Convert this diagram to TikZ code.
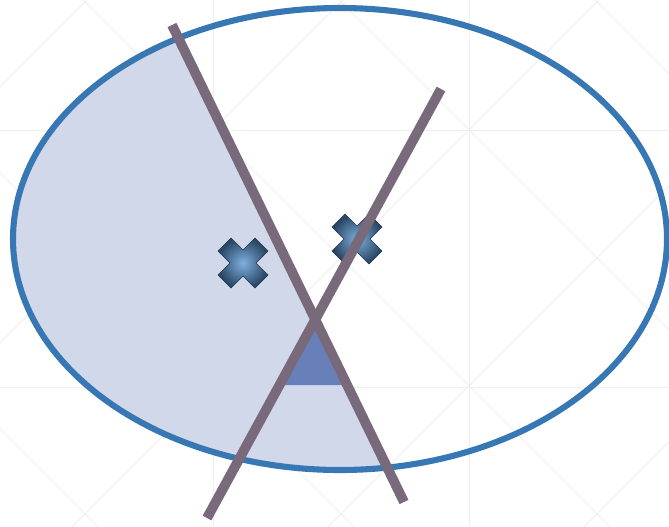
\documentclass[tikz,border=0pt]{standalone}
\usepackage{tikz}
\usetikzlibrary{calc}
\usepackage{xcolor}
\definecolor{rimblue}{HTML}{3777B4}
\definecolor{cutgray}{HTML}{796A7B}
\definecolor{paleblue}{HTML}{D1D8EA}
\definecolor{wedgeblue}{HTML}{6880BA}
\definecolor{gridgray}{HTML}{EEEEF1}
\definecolor{crosslight}{HTML}{7DB0E0}
\definecolor{crossdark}{HTML}{1D3550}
\newcommand{\crossmark}[1]{%
  \path[crossx, shift={(#1)}] (0,-13) -- (12,-25) -- (25,-12) -- (13,0) -- (25,12) -- (12,25)
    -- (0,13) -- (-12,25) -- (-25,12) -- (-13,0) -- (-25,-12) -- (-12,-25) -- cycle;}

\begin{document}
\begin{tikzpicture}[x=0.03cm, y=-0.03cm,
  gridline/.style={draw=gridgray, line width=0.8pt},
  rim/.style={draw=rimblue, line width=5.2pt},
  cutline/.style={draw=cutgray, line width=8.4pt},
  halfplane/.style={fill=paleblue},
  wedge/.style={fill=wedgeblue},
  crossx/.style={draw=crossdark, line width=0.4pt, inner color=crosslight, outer color=crossdark!85!crosslight}
]
\useasboundingbox (0,0) rectangle (669,526);

%========== background grid ==========
\begin{scope}
  \clip (0,0) rectangle (669,526);
  \foreach \gy in {130,387} \draw[gridline] (0,\gy) -- (669,\gy);
  \foreach \gx in {213,469} \draw[gridline] (\gx,0) -- (\gx,526);
  \foreach \c in {-595,-339,-83,173,429} \draw[gridline] (-100,{\c-100}) -- (800,{\c+800});
  \foreach \c in {87,343,599,855,1111} \draw[gridline] (-100,{\c+100}) -- (800,{\c-800});
\end{scope}

%========== points ==========
\coordinate (hub) at (340,239);
\coordinate (p1) at (172,25);
\coordinate (p2) at (404,502);
\coordinate (q1) at (441,89);
\coordinate (q2) at (207,518);
\coordinate (meet) at (intersection of p1--p2 and q1--q2);
\coordinate (wl) at (intersection of q1--q2 and 0,385--669,385);
\coordinate (wr) at (intersection of p1--p2 and 0,385--669,385);
\coordinate (m1) at (243,263);
\coordinate (m2) at (357,239);

%========== shaded half of the ellipse ==========
\begin{scope}
  \clip ($(p1)!-0.3!(p2)$) -- ($(p1)!1.3!(p2)$) -- (-60,700) -- (-60,-150) -- cycle;
  \fill[halfplane] (hub) ellipse [x radius=327, y radius=231];
\end{scope}
\fill[wedge] (meet) -- (wl) -- (wr) -- cycle;

\draw[rim] (hub) ellipse [x radius=327, y radius=231];

%========== marks and cuts ==========
\crossmark{m1}
\crossmark{m2}

\draw[cutline] (p1) -- (p2);
\draw[cutline] (q1) -- (q2);

\end{tikzpicture}
\end{document}
